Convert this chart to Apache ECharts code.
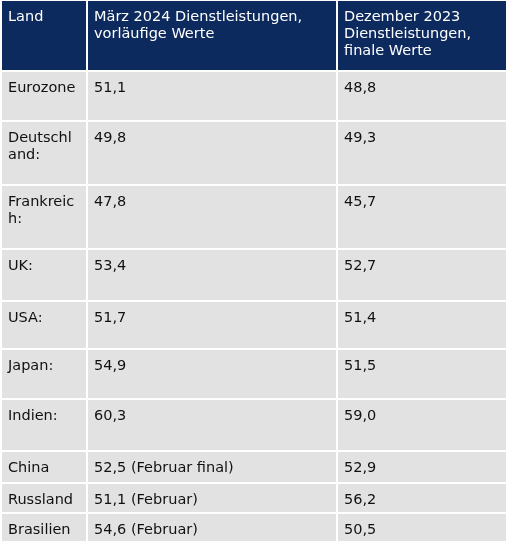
<!DOCTYPE html>
<html><head><meta charset="utf-8">
<script src="https://cdn.jsdelivr.net/npm/echarts@6/dist/echarts.min.js"></script>
<style>html,body{margin:0;padding:0;background:#fff}#c{width:510px;height:545px}</style>
</head><body><div id="c"></div>
<script>
const headers = ["Land", "März 2024 Dienstleistungen,\nvorläufige Werte", "Dezember 2023\nDienstleistungen,\nfinale Werte"];
const countries = ["Eurozone", "Deutschl\nand:", "Frankreic\nh:", "UK:", "USA:", "Japan:", "Indien:", "China", "Russland", "Brasilien"];
const march2024 = ["51,1", "49,8", "47,8", "53,4", "51,7", "54,9", "60,3", "52,5 (Februar final)", "51,1 (Februar)", "54,6 (Februar)"];
const dec2023 = ["48,8", "49,3", "45,7", "52,7", "51,4", "51,5", "59,0", "52,9", "56,2", "50,5"];
const colX = [2, 88, 338, 508];
const rowY = [1, 72, 122, 186, 250, 302, 350, 400, 452, 484, 514, 543];
const font = '14.5px "DejaVu Sans", Verdana, sans-serif';
const g = [];
function cell(r, c, txt, head) {
  const x = colX[c], y = rowY[r], w = colX[c+1]-x-2, h = rowY[r+1]-y-2;
  g.push({type:'rect', shape:{x, y, width:w, height:h}, style:{fill: head ? '#0d2a5e' : '#e2e2e2'}});
  g.push({type:'text', x:x+6, y:y+8, style:{text:txt, font, fill: head ? '#fff' : '#111', lineHeight:17}});
}
headers.forEach((h,i)=>cell(0,i,h,true));
countries.forEach((c,i)=>{cell(i+1,0,c);cell(i+1,1,march2024[i]);cell(i+1,2,dec2023[i]);});
const chart = echarts.init(document.getElementById('c'));
chart.setOption({animation:false, graphic:g});
</script></body></html>
